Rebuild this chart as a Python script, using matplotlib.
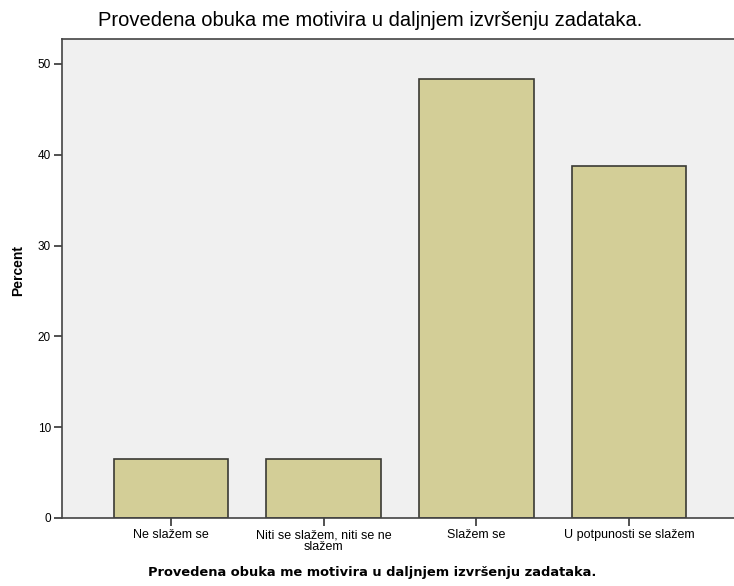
import matplotlib
matplotlib.use("Agg")
import matplotlib.pyplot as plt

categories = ["Ne slažem se", "Niti se slažem, niti se ne\nslažem", "Slažem se", "U potpunosti se slažem"]
percents = [6.45, 6.45, 48.39, 38.71]
yticks = [0, 10, 20, 30, 40, 50]
title = "Provedena obuka me motivira u daljnjem izvršenju zadataka."

fig = plt.figure(figsize=(7.34, 5.86), dpi=100)
ax_l, ax_b, ax_w, ax_h = 62/734, 1-518/586, (738-62)/734, (518-39)/586
ax = fig.add_axes([ax_l, ax_b, ax_w, ax_h])
ax.set_facecolor("#F0F0F0")
x = list(range(len(categories)))
ax.bar(x, percents, width=0.75, color="#D3CE97", edgecolor="#3A3A34", linewidth=1.2, zorder=2)
ax.set_xlim(-0.714, 3.714)
ax.set_ylim(0, 52.75)
ax.set_yticks(yticks)
ax.set_xticks(x)
ax.set_xticklabels(categories, fontsize=9, family="Liberation Sans", linespacing=1.02)
ax.set_yticklabels([str(v) for v in yticks], fontsize=8.5, family="Liberation Sans")
ax.tick_params(axis="both", direction="out", length=6, width=1.2, color="#333333", pad=2)
for s in ["left", "top", "bottom"]:
    ax.spines[s].set_color("#444444")
    ax.spines[s].set_linewidth(1.2)
ax.spines["right"].set_visible(False)
ax.set_ylabel("Percent", fontsize=10, fontweight="bold", family="Liberation Sans")
ax.yaxis.set_label_coords((25-62)/676, (518-270)/479)
ax.set_xlabel(title, fontsize=9.4, fontweight="bold", family="DejaVu Sans")
ax.xaxis.set_label_coords((372-62)/676, -(566-518)/479)
fig.text(370/734, 1-21/586, title, ha="center", va="center", fontsize=14.5, family="Liberation Sans")
fig.savefig("out.png", dpi=100)
